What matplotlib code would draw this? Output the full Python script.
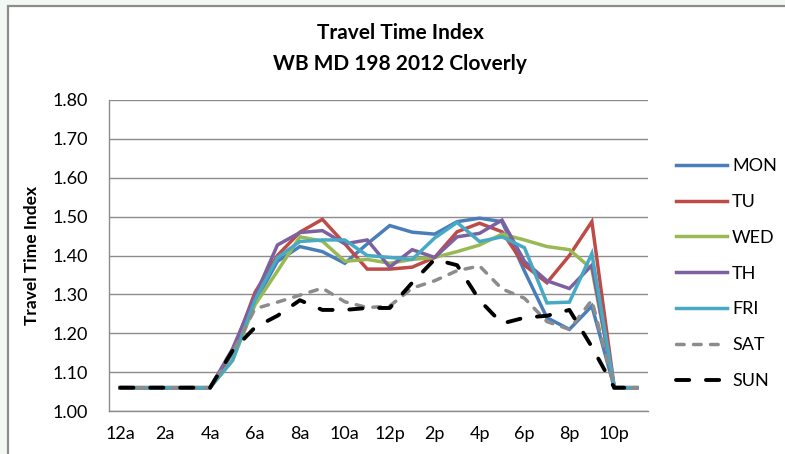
import matplotlib
matplotlib.use('Agg')
import matplotlib.pyplot as plt
from matplotlib.lines import Line2D

hours = list(range(24))
tick_pos = list(range(0, 24, 2))
tick_labels = ['12a', '2a', '4a', '6a', '8a', '10a', '12p', '2p', '4p', '6p', '8p', '10p']

mon = [1.06, 1.06, 1.06, 1.06, 1.06, 1.15, 1.28, 1.385, 1.423, 1.41, 1.38, 1.43,
       1.477, 1.46, 1.455, 1.487, 1.496, 1.487, 1.36, 1.24, 1.21, 1.27, 1.06, 1.06]
tu = [1.06, 1.06, 1.06, 1.06, 1.06, 1.15, 1.305, 1.40, 1.46, 1.493, 1.43, 1.365,
      1.365, 1.37, 1.395, 1.461, 1.483, 1.461, 1.375, 1.33, 1.40, 1.487, 1.06, 1.06]
wed = [1.06, 1.06, 1.06, 1.06, 1.06, 1.13, 1.273, 1.36, 1.448, 1.437, 1.385, 1.39,
       1.38, 1.39, 1.395, 1.41, 1.427, 1.455, 1.44, 1.423, 1.415, 1.365, 1.06, 1.06]
th = [1.06, 1.06, 1.06, 1.06, 1.06, 1.16, 1.295, 1.427, 1.459, 1.464, 1.43, 1.44,
      1.37, 1.415, 1.395, 1.448, 1.457, 1.491, 1.385, 1.335, 1.315, 1.375, 1.06, 1.06]
fri = [1.06, 1.06, 1.06, 1.06, 1.06, 1.13, 1.285, 1.395, 1.436, 1.44, 1.44, 1.40,
       1.395, 1.39, 1.445, 1.485, 1.436, 1.448, 1.42, 1.278, 1.28, 1.405, 1.06, 1.06]
sat = [1.06, 1.06, 1.06, 1.06, 1.06, 1.15, 1.263, 1.28, 1.298, 1.316, 1.281, 1.266,
       1.27, 1.316, 1.335, 1.361, 1.373, 1.314, 1.29, 1.23, 1.21, 1.285, 1.06, 1.06]
sun = [1.06, 1.06, 1.06, 1.06, 1.06, 1.155, 1.215, 1.245, 1.285, 1.26, 1.26, 1.265,
       1.265, 1.33, 1.39, 1.375, 1.285, 1.225, 1.24, 1.245, 1.26, 1.165, 1.06, 1.06]

# name, values, colour, line style, width
series = [('MON', mon, '#4a7ebb', '-', 2.5),
          ('TU', tu, '#be4b48', '-', 2.5),
          ('WED', wed, '#98b954', '-', 2.5),
          ('TH', th, '#7d60a0', '-', 2.5),
          ('FRI', fri, '#46aac5', '-', 2.5),
          ('SAT', sat, '#8c8c8c', (0, (2.2, 2.7)), 2.5),
          ('SUN', sun, '#000000', (0, (3.4, 4.3)), 2.8)]

font = ['Lato', 'DejaVu Sans']
plt.rcParams['font.family'] = font

fig = plt.figure(figsize=(7.85, 4.54), dpi=100)
fig.patch.set_facecolor('#f4f8f4')
# white chart area with a gray frame along the top and left
bg = plt.Rectangle((8 / 785, -0.05), 1.1, 1 - 6 / 454 + 0.05, transform=fig.transFigure,
                   facecolor='white', edgecolor='#8c8c8c', linewidth=1.6, zorder=-5)
fig.patches.append(bg)

ax = fig.add_axes([109 / 785, 1 - 411 / 454, 539 / 785, 311 / 454])
ax.set_facecolor('none')
ax.set_zorder(2)

for name, vals, color, ls, lw in series:
    ax.plot(hours, vals, color=color, linestyle=ls, linewidth=lw, label=name,
            dash_capstyle='round', solid_joinstyle='miter')

ax.set_xlim(-0.5, 23.5)
ax.set_ylim(1.0, 1.8)
ax.set_xticks(tick_pos)
ax.set_xticklabels(tick_labels)
ax.set_yticks([1.0 + 0.1 * i for i in range(9)])
ax.set_yticklabels(['%.2f' % (1.0 + 0.1 * i) for i in range(9)])
ax.tick_params(axis='both', length=0, labelsize=13, colors='#000000')
ax.tick_params(axis='x', pad=11)
ax.tick_params(axis='y', pad=15)
ax.yaxis.grid(True, color='#8c8c8c', linewidth=1.0)
ax.set_axisbelow(True)
for side in ['top', 'right']:
    ax.spines[side].set_visible(False)
for side in ['left', 'bottom']:
    ax.spines[side].set_color('#8c8c8c')
    ax.spines[side].set_linewidth(1.0)

ax.set_ylabel('Travel Time Index', fontsize=12.5, fontweight='bold', labelpad=9)

fig.text(0.51, 1 - 33 / 454, 'Travel Time Index', ha='center', va='center',
         fontsize=15, fontweight='bold')
fig.text(0.51, 1 - 64 / 454, 'WB MD 198 2012 Cloverly', ha='center', va='center',
         fontsize=15, fontweight='bold')

handles = [Line2D([0], [0], color=c, linestyle=ls, linewidth=lw, dash_capstyle='round')
           for _, _, c, ls, lw in series]
leg = fig.legend(handles, [s[0] for s in series], loc='upper left',
                 bbox_to_anchor=(676 / 785, 1 - 158 / 454), frameon=False,
                 borderaxespad=0, borderpad=0,
                 fontsize=13, handlelength=2.8, handletextpad=0.3, labelspacing=1.1)

fig.savefig('out.png', dpi=100)
